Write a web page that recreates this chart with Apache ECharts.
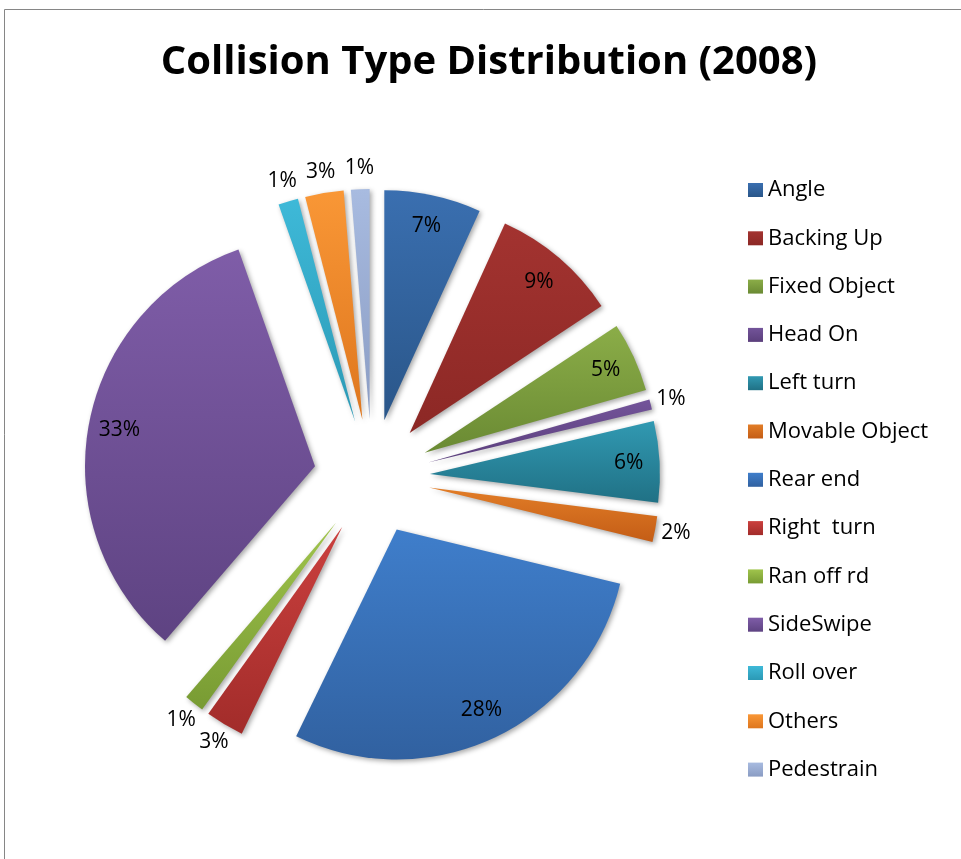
<!DOCTYPE html>
<html>
<head>
<meta charset="utf-8">
<script src="https://cdn.jsdelivr.net/npm/echarts@6/dist/echarts.min.js"></script>
<style>
html,body{margin:0;padding:0;background:#fff;}
#chart{width:961px;height:859px;}
</style>
</head>
<body>
<div id="chart"></div>
<script>
// ---- data (shares in %) ----
const categories = ['Angle','Backing Up','Fixed Object','Head On','Left turn','Movable Object','Rear end','Right  turn','Ran off rd','SideSwipe','Roll over','Others','Pedestrain'];
const percentValues = [6.8, 8.9, 4.9, 0.7, 5.7, 1.8, 28.4, 2.7, 1.4, 33.3, 1.4, 2.7, 1.3];
const chartTitle = 'Collision Type Distribution (2008)';

// ---- styles ----
const topColors    = ['#3A6FB0','#A33330','#8BAD48','#73549A','#3199B2','#E27D27','#3F7ECB','#CB403E','#A0C44C','#7F5DA8','#3EB9D8','#F99736','#A8BBE0'];
const bottomColors = ['#2A5689','#8C2825','#6A8A33','#5B3F7C','#207185','#C45D16','#3161A0','#A22C2A','#789B33','#5E4382','#2B99B5','#DE761E','#8A9CC3'];

const chart = echarts.init(document.getElementById('chart'), null, {renderer:'canvas'});

function grad(i){
  return new echarts.graphic.LinearGradient(0,0,0,1,[
    {offset:0,color:topColors[i]},{offset:1,color:bottomColors[i]}
  ]);
}
const isLarge = v => v >= 4;
const pctFmt = p => Math.round(p.percent) + '%';

const mainData = categories.map((name,i)=>({
  name, value: percentValues[i], selected: true,
  itemStyle:{color: grad(i)}
}));
// label layers (transparent sectors carrying the labels)
const innerLabelData = categories.map((name,i)=>({
  name, value: percentValues[i], selected: true,
  label:{show: isLarge(percentValues[i])}
}));
const outerLabelData = categories.map((name,i)=>({
  name, value: percentValues[i], selected: true,
  label:{show: !isLarge(percentValues[i])}
}));

const center = [372, 477];
const labelFont = {color:'#000', fontFamily:"'Open Sans',sans-serif", fontSize:21};

function labelLayer(name, radius, data, padding){
  return {
    name, type:'pie',
    center: center, radius: radius,
    startAngle:90, clockwise:true,
    selectedMode:'multiple', selectedOffset:58,
    avoidLabelOverlap:false, silent:true,
    minShowLabelAngle:0,
    labelLayout:{hideOverlap:false},
    itemStyle:{color:'rgba(0,0,0,0)'},
    label:Object.assign({position:'inside', formatter:pctFmt, padding:padding}, labelFont),
    labelLine:{show:false},
    emphasis:{disabled:true},
    data: data
  };
}

chart.setOption({
  animation:false,
  backgroundColor:'#fff',
  title:{
    text: chartTitle,
    left: 484, top: 38, textAlign:'center',
    textStyle:{fontFamily:"'Open Sans',sans-serif",fontWeight:'bold',fontSize:40,color:'#000'}
  },
  graphic:[{
    type:'rect', silent:true, z:-10,
    shape:{x:4.5,y:9.5,width:1200,height:1200},
    style:{fill:'none',stroke:'#868686',lineWidth:1}
  }],
  legend:{
    orient:'vertical',
    left:743, top:174,
    itemWidth:15, itemHeight:14, itemGap:26.3,
    icon:'rect',
    selectedMode:false,
    data: categories,
    textStyle:{fontFamily:"'Open Sans',sans-serif",fontSize:22,lineHeight:22,color:'#000'}
  },
  series:[
    {
      name:'main', type:'pie',
      center: center, radius:[0,230],
      startAngle:90, clockwise:true,
      selectedMode:'multiple', selectedOffset:58,
      avoidLabelOverlap:false,
      label:{show:false}, labelLine:{show:false},
      itemStyle:{shadowColor:'rgba(0,0,0,0.35)',shadowBlur:5,shadowOffsetX:2,shadowOffsetY:2},
      emphasis:{disabled:true},
      data: mainData
    },
    labelLayer('innerLabels', [162,230], innerLabelData, [7,0,0,0]),
    labelLayer('outerLabels', [230,266], outerLabelData, [0,0,0,0])
  ]
});
</script>
</body>
</html>
